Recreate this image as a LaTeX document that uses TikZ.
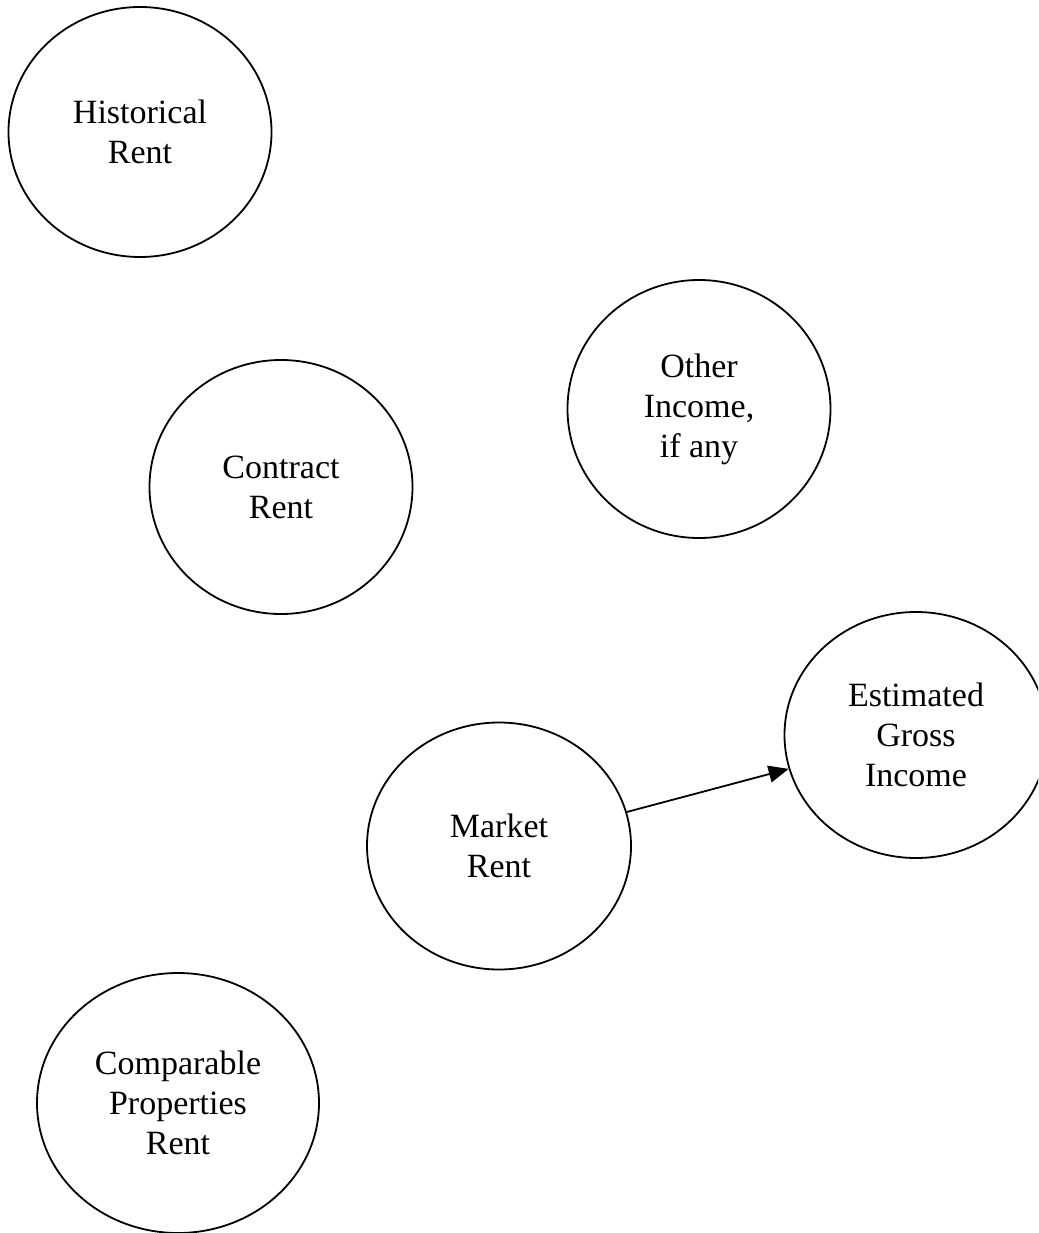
\documentclass[tikz,border=0pt]{standalone}
\usepackage{fontspec}
\setmainfont{Liberation Serif}
\usepackage{tikz}
\usetikzlibrary{arrows.meta,shapes.geometric,positioning}
\tikzset{
    %Define standard arrow tip
    >={Triangle[length=20pt,width=17pt]},
    %Define style for ellipses
    bubble/.style={
           ellipse,
           draw=black, line width=1.8pt,
           inner sep=0pt,
           minimum width=263pt,
           minimum height=250pt,
           font=\fontsize{34}{40}\selectfont,
           align=center},
    % Define arrow style
    pil/.style={
           ->,
           line width=1.8pt,
           shorten <=0pt,
           shorten >=0pt,}
}

\begin{document}
\begin{tikzpicture}[x=1pt,y=-1pt]
 \useasboundingbox (0,0) rectangle (1038,1233);
 \clip (0,0) rectangle (1038,1233);

 %nodes
 \node[bubble] (hist) at (140,132) {Historical\\Rent};
 \node[bubble, minimum height=258pt] (other) at (699,409) {Other\\Income,\\if any};
 \node[bubble, minimum height=254pt] (contract) at (281,487) {Contract\\Rent};
 \node[bubble, minimum height=246pt] (egi) at (916,735) {Estimated\\Gross\\Income};
 \node[bubble, minimum width=264pt, minimum height=247pt] (market) at (499,846) {Market\\Rent};
 \node[bubble, minimum width=282pt, minimum height=260pt] (comp) at (178,1103) {Comparable\\Properties\\Rent};

 \path (market) edge[pil] (egi);

\end{tikzpicture}
\end{document}
